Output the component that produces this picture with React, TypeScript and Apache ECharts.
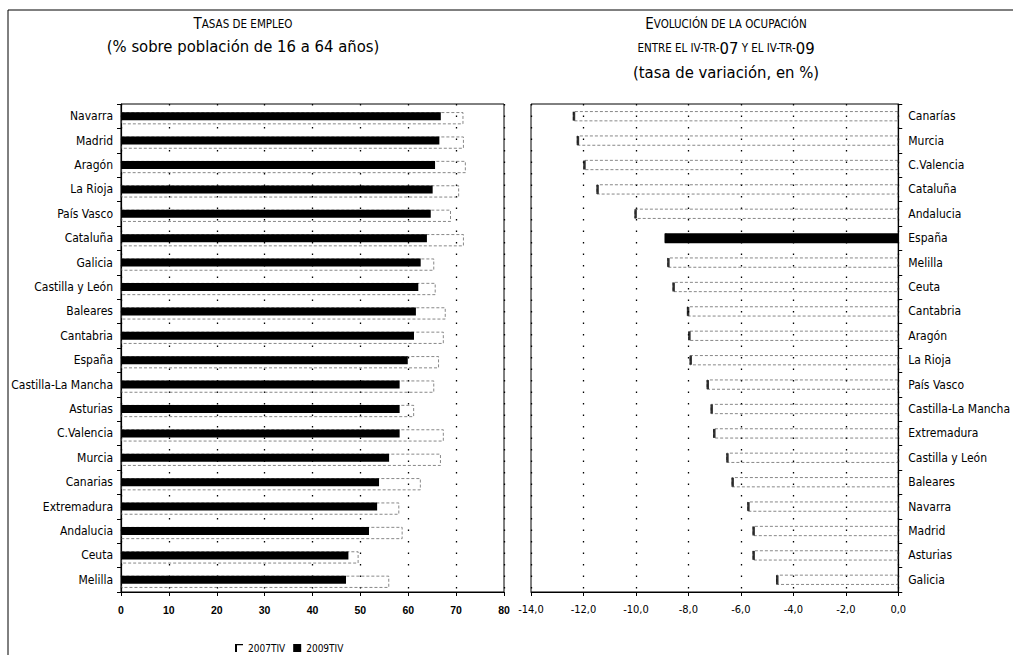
import React, { useEffect, useRef } from "react";
import * as echarts from "echarts";

// ---------- DATA ----------
const leftCategories = [
  "Navarra", "Madrid", "Aragón", "La Rioja", "País Vasco", "Cataluña", "Galicia",
  "Castilla y León", "Baleares", "Cantabria", "España", "Castilla-La Mancha",
  "Asturias", "C.Valencia", "Murcia", "Canarias", "Extremadura", "Andalucia",
  "Ceuta", "Melilla",
];
const emp2007 = [71.5, 71.6, 72.0, 70.6, 68.9, 71.6, 65.4, 65.7, 67.8, 67.4, 66.4, 65.4, 61.2, 67.4, 66.8, 62.6, 58.1, 58.8, 49.6, 56.0];
const emp2009 = [66.8, 66.5, 65.6, 65.1, 64.7, 63.9, 62.6, 62.1, 61.6, 61.2, 59.9, 58.2, 58.2, 58.2, 56.0, 53.9, 53.5, 51.8, 47.5, 47.0];

const rightCategories = [
  "Canarías", "Murcia", "C.Valencia", "Cataluña", "Andalucia", "España", "Melilla",
  "Ceuta", "Cantabria", "Aragón", "La Rioja", "País Vasco", "Castilla-La Mancha",
  "Extremadura", "Castilla y León", "Baleares", "Navarra", "Madrid", "Asturias", "Galicia",
];
const variation = [-12.4, -12.25, -12.0, -11.5, -10.05, -8.9, -8.8, -8.6, -8.05, -8.0, -7.95, -7.3, -7.15, -7.05, -6.55, -6.35, -5.75, -5.55, -5.55, -4.65];
const highlight = "España";

const leftTicks = { min: 0, max: 80, interval: 10 };
const rightTicks = { min: -14, max: 0, interval: 2 };

// ---------- STYLE ----------
const NARROW = "'Liberation Sans Narrow', 'DejaVu Sans Condensed', 'Arial Narrow', sans-serif";
const SANS = "'Liberation Sans', Arial, sans-serif";
const bracketIcon = "path://M0,0 L10,0 L10,1.5 L2.5,1.5 L2.5,10 L0,10 Z";

export default function App() {
  const ref = useRef<HTMLDivElement>(null);

  useEffect(() => {
    if (!ref.current) return;
    const chart = echarts.init(ref.current, null, { renderer: "svg" });

    const rt = (size: number, lh: number) => ({
      fontSize: size,
      fontFamily: NARROW,
      fontWeight: "normal",
      color: "#000",
      lineHeight: lh,
    });

    const option: any = {
      animation: false,
      backgroundColor: "#fff",
      textStyle: { fontFamily: NARROW, color: "#000" },
      title: [
        {
          text: "{a|T}{b|ASAS DE EMPLEO}\n{c|(% sobre población de 16 a 64 años)}",
          left: 238,
          top: 7,
          textAlign: "center",
          textStyle: {
            fontWeight: "normal",
            rich: { a: rt(15, 23), b: rt(11.5, 23), c: rt(16.5, 23) },
          },
        },
        {
          text:
            "{a|E}{b|VOLUCIÓN DE LA OCUPACIÓN}\n{b|ENTRE EL IV-TR-}{c|07}{b| Y EL IV-TR-}{c|09}\n{c|(tasa de variación, en %)}",
          left: 721,
          top: 7,
          textAlign: "center",
          textStyle: {
            fontWeight: "normal",
            rich: { a: rt(15, 24), b: rt(11.5, 24), c: rt(16.5, 24) },
          },
        },
      ],
      legend: {
        left: 230,
        top: 638,
        itemWidth: 8,
        itemHeight: 8,
        itemGap: 8,
        textStyle: { fontSize: 10, fontFamily: NARROW, color: "#000" },
        data: [
          { name: "2007TIV", icon: bracketIcon, itemStyle: { color: "#000", borderWidth: 0 } },
          { name: "2009TIV", icon: "rect", itemStyle: { color: "#000" } },
        ],
      },
      grid: [
        { left: 121, width: 383, top: 104, height: 488, show: true, borderColor: "#000", borderWidth: 1, backgroundColor: "transparent" },
        { left: 531, width: 374, top: 104, height: 488, show: true, borderColor: "#000", borderWidth: 1, backgroundColor: "transparent" },
      ],
      xAxis: [
        {
          gridIndex: 0,
          type: "value",
          min: leftTicks.min,
          max: leftTicks.max,
          interval: leftTicks.interval,
          axisLine: { show: true, lineStyle: { color: "#000", width: 1 } },
          axisTick: { show: true, length: 4, lineStyle: { color: "#000" } },
          axisLabel: { fontSize: 10.5, fontFamily: SANS, color: "#000", margin: 12, fontWeight: "bold" },
          splitLine: { show: true, lineStyle: { color: "#000", type: [1.5, 10], width: 1.3 } },
        },
        {
          gridIndex: 1,
          type: "value",
          min: rightTicks.min,
          max: rightTicks.max,
          interval: rightTicks.interval,
          axisLine: { show: true, lineStyle: { color: "#000", width: 1 } },
          axisTick: { show: true, length: 4, lineStyle: { color: "#000" } },
          axisLabel: {
            fontSize: 11,
            fontFamily: NARROW,
            color: "#000",
            margin: 12,
            formatter: (v: number) => v.toFixed(1).replace(".", ","),
          },
          splitLine: { show: true, lineStyle: { color: "#000", type: [1.5, 10], width: 1.3 } },
        },
      ],
      yAxis: [
        {
          gridIndex: 0,
          type: "category",
          data: leftCategories,
          inverse: true,
          position: "left",
          axisLine: { show: true, lineStyle: { color: "#000", width: 1.2 } },
          axisTick: { show: true, length: 4, lineStyle: { color: "#000" } },
          axisLabel: { fontSize: 12, fontFamily: NARROW, color: "#000", margin: 8 },
          splitLine: { show: false },
        },
        {
          gridIndex: 1,
          type: "category",
          data: rightCategories,
          inverse: true,
          position: "right",
          axisLine: { show: true, lineStyle: { color: "#000", width: 1.2 } },
          axisTick: { show: true, length: 4, lineStyle: { color: "#000" } },
          axisLabel: { fontSize: 12, fontFamily: NARROW, color: "#000", margin: 10 },
          splitLine: { show: false },
        },
      ],
      series: [
        {
          name: "2007TIV",
          type: "bar",
          xAxisIndex: 0,
          yAxisIndex: 0,
          data: emp2007,
          barWidth: 12,
          barGap: "-100%",
          itemStyle: { color: "rgba(255,255,255,0)", borderColor: "#555", borderWidth: 0.7, borderType: [3, 2] },
          z: 2,
        },
        {
          name: "2009TIV",
          type: "bar",
          xAxisIndex: 0,
          yAxisIndex: 0,
          data: emp2009,
          barWidth: 8,
          itemStyle: { color: "#000" },
          z: 3,
        },
        {
          name: "Variación",
          type: "bar",
          xAxisIndex: 1,
          yAxisIndex: 1,
          barWidth: 10,
          data: variation.map((v, i) =>
            rightCategories[i] === highlight
              ? { value: v, itemStyle: { color: "#000", borderColor: "#000", borderType: "solid", borderWidth: 0 } }
              : v
          ),
          itemStyle: { color: "rgba(255,255,255,0)", borderColor: "#555", borderWidth: 0.7, borderType: [3, 2] },
          z: 2,
        },
        {
          name: "Inicio",
          type: "scatter",
          xAxisIndex: 1,
          yAxisIndex: 1,
          symbol: "rect",
          symbolSize: [2.5, 9],
          symbolOffset: [1, 0],
          itemStyle: { color: "#000" },
          data: variation.map((v, i) => [v, rightCategories[i]]),
          z: 4,
        },
      ],
      graphic: [
        { type: "line", shape: { x1: 8, y1: 10, x2: 1013, y2: 10 }, style: { stroke: "#000", lineWidth: 1 } },
        { type: "line", shape: { x1: 8, y1: 10, x2: 8, y2: 655 }, style: { stroke: "#000", lineWidth: 1 } },
      ],
    };

    chart.setOption(option);
    return () => chart.dispose();
  }, []);

  return (
    <div
      ref={ref}
      style={{ position: "absolute", left: 0, top: 0, width: 1013, height: 655, background: "#fff" }}
    />
  );
}
